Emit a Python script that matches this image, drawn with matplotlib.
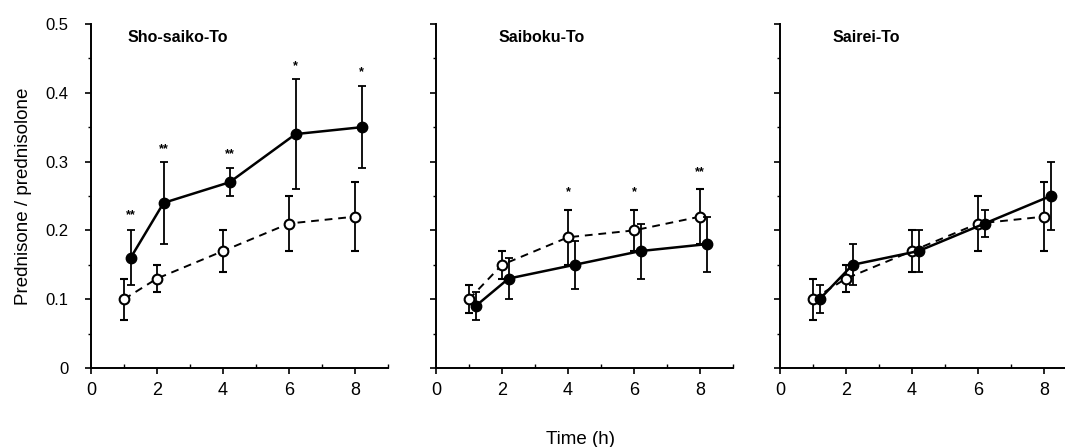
import numpy as np
import matplotlib
matplotlib.use("Agg")
from matplotlib import pyplot as plt
from matplotlib.ticker import MultipleLocator

plt.rcParams['font.family'] = ['Liberation Sans', 'DejaVu Sans']

titluri = ['Sho-saiko-To', 'Saiboku-To', 'Sairei-To']
timp = [1, 2, 4, 6, 8]

# filled circles (solid line), drawn slightly to the right
plin = [[0.16, 0.24, 0.27, 0.34, 0.35],
        [0.09, 0.13, 0.15, 0.17, 0.18],
        [0.10, 0.15, 0.17, 0.21, 0.25]]
plin_err = [[0.04, 0.06, 0.02, 0.08, 0.06],
            [0.02, 0.03, 0.035, 0.04, 0.04],
            [0.02, 0.03, 0.03, 0.02, 0.05]]

# open circles (dashed line)
gol = [[0.10, 0.13, 0.17, 0.21, 0.22],
       [0.10, 0.15, 0.19, 0.20, 0.22],
       [0.10, 0.13, 0.17, 0.21, 0.22]]
gol_err = [[0.03, 0.02, 0.03, 0.04, 0.05],
           [0.02, 0.02, 0.04, 0.03, 0.04],
           [0.03, 0.02, 0.03, 0.04, 0.05]]

# significance marks
stele = [[(1.2, 0.222, '**'), (2.2, 0.318, '**'), (4.2, 0.311, '**'), (6.2, 0.438, '*'), (8.2, 0.430, '*')],
         [(4.0, 0.255, '*'), (6.0, 0.255, '*'), (8.0, 0.285, '**')],
         []]

W, H = 1065, 447
fig = plt.figure(figsize=(W / 100, H / 100), dpi=100)
stanga = [91, 436, 780]
latime = 297

for i in range(3):
    ax = fig.add_axes([stanga[i] / W, 79 / H, latime / W, 344 / H])
    ax.errorbar(timp, gol[i], yerr=gol_err[i], color='black', ls='--', lw=1.4,
                marker='o', ms=7, mfc='white', mec='black', mew=1.5,
                capsize=3, elinewidth=1.3, capthick=1.3, dashes=(4, 3), zorder=3)
    ax.errorbar(np.array(timp) + 0.2, plin[i], yerr=plin_err[i], color='black', ls='-', lw=1.8,
                marker='o', ms=7.5, mfc='black', mec='black',
                capsize=3, elinewidth=1.3, capthick=1.3, zorder=4)
    for (xs, ys, s) in stele[i]:
        ax.text(xs, ys, s, ha='center', va='center', fontsize=9, fontweight='bold')
    ax.text([1.1, 1.9, 1.6][i], 0.48, titluri[i], fontsize=11.5, fontweight='bold', va='center')

    ax.set_xlim(0, 9)
    ax.set_ylim(0, 0.5)
    ax.spines['top'].set_visible(False)
    ax.spines['right'].set_visible(False)
    ax.spines['left'].set_linewidth(1.4)
    ax.spines['bottom'].set_linewidth(1.4)
    ax.set_xticks([0, 2, 4, 6, 8])
    ax.xaxis.set_minor_locator(MultipleLocator(1))
    ax.yaxis.set_major_locator(MultipleLocator(0.1))
    ax.yaxis.set_minor_locator(MultipleLocator(0.05))
    ax.tick_params(axis='both', which='major', direction='out', length=4, width=1.2, labelsize=13)
    ax.tick_params(axis='x', which='major', pad=6)
    ax.tick_params(axis='y', which='major', pad=12)
    ax.tick_params(axis='x', which='minor', direction='in', length=3, width=1)
    ax.tick_params(axis='y', which='minor', direction='out', length=2.5, width=1)
    if i == 0:
        ax.set_yticks([0, 0.1, 0.2, 0.3, 0.4, 0.5])
        ax.set_yticklabels(['0', '0.1', '0.2', '0.3', '0.4', '0.5'], fontsize=12)
        ax.set_ylabel('Prednisone / prednisolone', fontsize=13.5, labelpad=10)
    else:
        ax.set_yticklabels([])

fig.text(581 / W, 1 - 440 / H, 'Time (h)', ha='center', va='center', fontsize=13.5)

fig.savefig('out.png', dpi=100)
